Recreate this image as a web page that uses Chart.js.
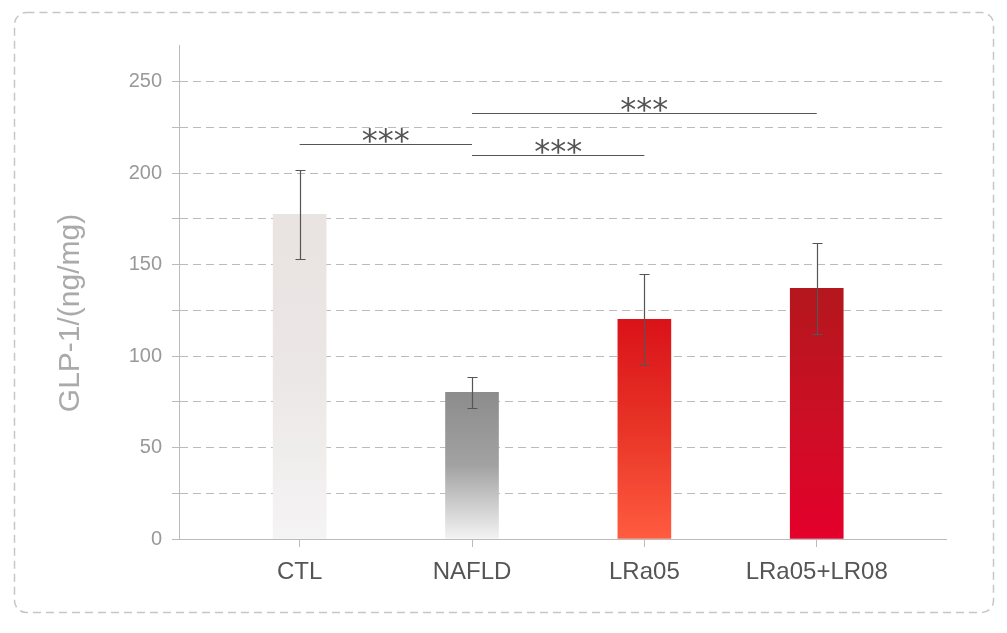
<!DOCTYPE html>
<html>
<head>
<meta charset="utf-8">
<script src="https://cdn.jsdelivr.net/npm/chart.js@4.4.1/dist/chart.umd.min.js"></script>
<style>
    html, body { margin: 0; padding: 0; background: #fff; }
    #wrap { width: 1007px; height: 633px; position: relative; }
</style>
</head>
<body>
<div id="wrap"><canvas id="myChart" width="1007" height="633"></canvas></div>
<script>
const categories = ['CTL', 'NAFLD', 'LRa05', 'LRa05+LR08'];
const means = [177.5, 80.2, 120, 137];
const errors = [24.3, 8.5, 25, 25];
const yLabels = [0, 50, 100, 150, 200, 250];
const sigPairs = [[0, 1], [1, 3], [1, 2]];
const sigHeights = [216, 233, 210];
const sigMarks = ['***', '***', '***'];
const yTitle = 'GLP-1/(ng/mg)';

// bar gradient colours, top -> bottom
const topColors = ['#e9e3e1', '#8c8c8c', '#da1219', '#b4171d'];
const midColors = ['#ebe7e6', '#a2a2a2', '#e83427', '#cb0f24'];
const bottomColors = ['#f5f4f4', '#f3f3f3', '#ff5c40', '#e4002b'];

function barFill(context) {
    const i = context.dataIndex;
    const chart = context.chart;
    if (i === undefined) return '#cccccc';
    if (!chart.chartArea || !chart.scales.y) return topColors[i];
    const y = chart.scales.y;
    const g = chart.ctx.createLinearGradient(0, y.getPixelForValue(means[i]), 0, y.getPixelForValue(0));
    g.addColorStop(0, topColors[i]);
    g.addColorStop(0.5, midColors[i]);
    g.addColorStop(1, bottomColors[i]);
    return g;
}

const errorBars = {
    id: 'errorBars',
    afterDatasetsDraw(chart) {
        const ctx = chart.ctx;
        const x = chart.scales.x, y = chart.scales.y;
        ctx.save();
        ctx.strokeStyle = '#555555';
        ctx.lineWidth = 1.2;
        for (let i = 0; i < means.length; i++) {
            const px = Math.round(x.getPixelForValue(i)) + 0.5;
            const top = Math.round(y.getPixelForValue(means[i] + errors[i])) + 0.5;
            const bot = Math.round(y.getPixelForValue(means[i] - errors[i])) + 0.5;
            ctx.beginPath();
            ctx.moveTo(px, top); ctx.lineTo(px, bot);
            ctx.moveTo(px - 5, top); ctx.lineTo(px + 5, top);
            ctx.moveTo(px - 5, bot); ctx.lineTo(px + 5, bot);
            ctx.stroke();
        }
        ctx.restore();
    }
};

const brackets = {
    id: 'brackets',
    afterDraw(chart) {
        const ctx = chart.ctx;
        const x = chart.scales.x, y = chart.scales.y;
        ctx.save();
        ctx.strokeStyle = '#555555';
        ctx.fillStyle = '#555555';
        ctx.lineWidth = 1;
        ctx.font = '32px "DejaVu Sans", sans-serif';
        ctx.textAlign = 'center';
        ctx.textBaseline = 'alphabetic';
        for (let i = 0; i < sigPairs.length; i++) {
            const x1 = x.getPixelForValue(sigPairs[i][0]);
            const x2 = x.getPixelForValue(sigPairs[i][1]);
            const py = Math.round(y.getPixelForValue(sigHeights[i])) + 0.5;
            ctx.beginPath();
            ctx.moveTo(x1, py); ctx.lineTo(x2, py);
            ctx.stroke();
            ctx.fillText(sigMarks[i], (x1 + x2) / 2, py + 6);
        }
        // y axis title
        ctx.translate(71, 313);
        ctx.rotate(-Math.PI / 2);
        ctx.fillStyle = '#aaaaaa';
        ctx.font = '30px "Liberation Sans", Arial, sans-serif';
        ctx.textBaseline = 'middle';
        ctx.fillText(yTitle, 0, 0);
        ctx.restore();
    }
};

const frame = {
    id: 'frame',
    afterDraw(chart) {
        const ctx = chart.ctx;
        ctx.save();
        ctx.strokeStyle = '#c6c6c6';
        ctx.lineWidth = 1.5;
        ctx.setLineDash([8, 5]);
        ctx.beginPath();
        ctx.roundRect(14.5, 12.5, 979, 600, 12);
        ctx.stroke();
        ctx.restore();
    }
};

window.addEventListener('load', function() {
    const ctx = document.getElementById('myChart');
    new Chart(ctx, {
        type: 'bar',
        data: {
            datasets: [{
                data: means.map((v, i) => ({ x: i, y: v })),
                backgroundColor: barFill,
                borderWidth: 0,
                barThickness: 53
            }]
        },
        options: {
            responsive: false,
            animation: false,
            layout: { padding: { top: 45, right: 61, left: 0, bottom: 0 } },
            plugins: {
                legend: { display: false },
                tooltip: { enabled: false }
            },
            scales: {
                x: {
                    type: 'linear',
                    min: -0.70,
                    max: 3.75,
                    offset: false,
                    afterBuildTicks: s => { s.ticks = categories.map((c, i) => ({ value: i })); },
                    afterFit: s => { s.height = 94; },
                    ticks: {
                        callback: v => categories[v],
                        color: '#555555',
                        font: { family: '"Liberation Sans", Arial, sans-serif', size: 24 },
                        padding: 11,
                        autoSkip: false,
                        maxRotation: 0
                    },
                    grid: { drawOnChartArea: false, offset: false, tickLength: 8, color: '#bbbbbb' },
                    border: { color: '#bbbbbb' }
                },
                y: {
                    min: 0,
                    max: 270,
                    afterBuildTicks: s => { s.ticks = s.ticks.filter(t => t.value % 25 === 0); },
                    afterFit: s => { s.width = 179; },
                    ticks: {
                        stepSize: 25,
                        autoSkip: false,
                        callback: v => yLabels.includes(v) ? v : '',
                        color: '#999999',
                        font: { family: '"Liberation Sans", Arial, sans-serif', size: 20 },
                        padding: 10
                    },
                    grid: { color: '#bbbbbb', tickLength: 7 },
                    border: { color: '#bbbbbb', dash: [8, 5] }
                }
            }
        },
        plugins: [errorBars, brackets, frame]
    });
});
</script>
</body>
</html>
